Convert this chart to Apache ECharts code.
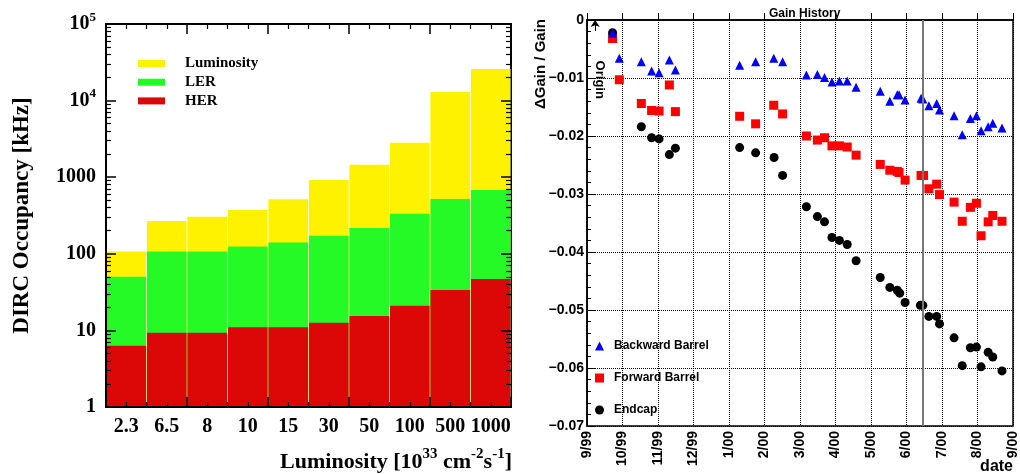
<!DOCTYPE html>
<html><head><meta charset="utf-8">
<script src="https://cdn.jsdelivr.net/npm/echarts@6/dist/echarts.min.js"></script>
<style>html,body{margin:0;padding:0;background:#fff}#c{width:1020px;height:474px}</style>
</head><body><div id="c"></div>
<script>
// ---------- left panel data ----------
const lumCategories = ['2.3','6.5','8','10','15','30','50','100','500','1000'];
const luminosityRate = [107, 268, 305, 373, 515, 920, 1455, 2820, 12950, 25900];
const lerRate = [50, 107, 107, 125, 140, 172, 217, 334, 520, 681];
const herRate = [6.3, 9.3, 9.3, 11, 11, 12.6, 15.4, 21, 33.7, 46.9];
const logMinorTicks = [2,3,4,5,6,7,8,9,20,30,40,50,60,70,80,90,200,300,400,500,600,700,800,900,
  2000,3000,4000,5000,6000,7000,8000,9000,20000,30000,40000,50000,60000,70000,80000,90000];

// ---------- right panel data (x = months since 1 Sep 1999) ----------
const dateTickLabels = ['9/99','10/99','11/99','12/99','1/00','2/00','3/00','4/00','5/00','6/00','7/00','8/00','9/00'];
const backwardBarrel = [[0.72,-0.0023],[0.91,-0.0066],[1.53,-0.0072],[1.82,-0.0088],[2.03,-0.0091],[2.32,-0.0069],[2.49,-0.0086],
  [4.30,-0.0078],[4.75,-0.0072],[5.26,-0.0066],[5.51,-0.0072],[6.18,-0.0095],[6.49,-0.0094],[6.69,-0.0099],[6.90,-0.0107],
  [7.11,-0.0105],[7.33,-0.0105],[7.58,-0.0116],[8.26,-0.0123],[8.53,-0.0140],[8.74,-0.0129],[8.79,-0.0129],[8.96,-0.0138],
  [9.41,-0.0135],[9.46,-0.0136],[9.63,-0.0148],[9.85,-0.0144],[9.93,-0.0155],[10.34,-0.0165],[10.57,-0.0198],[10.80,-0.0170],
  [10.97,-0.0165],[11.10,-0.0191],[11.30,-0.0184],[11.43,-0.0178],[11.69,-0.0186]];
const forwardBarrel = [[0.72,-0.0032],[0.91,-0.0103],[1.53,-0.0144],[1.82,-0.0156],[2.03,-0.0157],[2.32,-0.0112],[2.49,-0.0158],
  [4.30,-0.0166],[4.75,-0.0179],[5.26,-0.0147],[5.51,-0.0162],[6.18,-0.0200],[6.49,-0.0207],[6.69,-0.0203],[6.90,-0.0217],
  [7.11,-0.0217],[7.33,-0.0219],[7.58,-0.0233],[8.26,-0.0249],[8.53,-0.0259],[8.74,-0.0261],[8.79,-0.0263],[8.96,-0.0276],
  [9.41,-0.0268],[9.48,-0.0268],[9.63,-0.0291],[9.85,-0.0283],[9.93,-0.0301],[10.34,-0.0314],[10.57,-0.0347],[10.80,-0.0323],
  [10.97,-0.0316],[11.10,-0.0372],[11.30,-0.0348],[11.43,-0.0337],[11.69,-0.0347]];
const endcap = [[0.72,-0.0022],[1.53,-0.0184],[1.82,-0.0203],[2.03,-0.0205],[2.32,-0.0232],[2.49,-0.0221],
  [4.30,-0.0220],[4.75,-0.0229],[5.27,-0.0237],[5.51,-0.0268],[6.18,-0.0322],[6.49,-0.0339],[6.69,-0.0348],[6.90,-0.0375],
  [7.11,-0.0380],[7.33,-0.0387],[7.58,-0.0415],[8.26,-0.0444],[8.53,-0.0461],[8.74,-0.0466],[8.81,-0.0471],[8.96,-0.0487],
  [9.39,-0.0492],[9.46,-0.0492],[9.63,-0.0511],[9.85,-0.0511],[9.93,-0.0524],[10.34,-0.0548],[10.57,-0.0596],[10.80,-0.0565],
  [10.97,-0.0564],[11.10,-0.0598],[11.30,-0.0573],[11.43,-0.0581],[11.69,-0.0605]];
const markerDate = 9.455;
const originDate = 0.23;

const SERIF = '"Liberation Serif", "DejaVu Serif", serif';
const SANS = '"Liberation Sans", Arial, sans-serif';

const chart = echarts.init(document.getElementById('c'), null, {renderer: 'canvas'});

const supRich = {
  b: {fontFamily: SERIF, fontWeight: 'bold', fontSize: 20, lineHeight: 26, color: '#000'},
  s: {fontFamily: SERIF, fontWeight: 'bold', fontSize: 13, lineHeight: 13, verticalAlign: 'top', color: '#000'}
};
const titleRich = {
  b: {fontFamily: SERIF, fontWeight: 'bold', fontSize: 22, lineHeight: 30, color: '#000'},
  s: {fontFamily: SERIF, fontWeight: 'bold', fontSize: 15, lineHeight: 15, verticalAlign: 'top', color: '#000'}
};

const hidden = {axisLabel: {show: false}, axisLine: {show: false}, splitLine: {show: false}, z: 10};
const majorTick = {show: true, inside: true, length: 10, lineStyle: {color: '#000', width: 1.5}};
const minorTickStyle = {show: true, inside: true, length: 5, lineStyle: {color: '#000', width: 1.2}};

const option = {
  animation: false,
  backgroundColor: '#fff',
  title: [
    {text: '{b|Luminosity [10}{s|33}{b| cm}{s|-2}{b|s}{s|-1}{b|]}', right: 503, top: 442,
     textStyle: {rich: titleRich}},
    {text: 'Gain History', left: 764, top: 3,
     textStyle: {fontFamily: SANS, fontWeight: 'bold', fontSize: 12, color: '#000'}},
    {text: 'date', right: 2, top: 454,
     textStyle: {fontFamily: SANS, fontWeight: 'bold', fontSize: 16, color: '#000'}}
  ],
  legend: [
    {data: ['Luminosity', 'LER', 'HER'], orient: 'vertical', left: 133, top: 51,
     itemWidth: 27, itemHeight: 7, itemGap: 3.7, icon: 'rect', selectedMode: false,
     textStyle: {fontFamily: SERIF, fontWeight: 'bold', fontSize: 15, color: '#000', padding: [0, 0, 0, 15]}},
    {data: ['Backward Barrel', 'Forward Barrel', 'Endcap'], orient: 'vertical', left: 590, top: 335,
     itemWidth: 9, itemHeight: 9, itemGap: 20, selectedMode: false,
     textStyle: {fontFamily: SANS, fontWeight: 'bold', fontSize: 12, color: '#000', padding: [0, 0, 0, 5]}}
  ],
  grid: [
    {left: 106, top: 24, width: 405, height: 383, show: true, borderColor: '#000', borderWidth: 2, backgroundColor: 'transparent'},
    {left: 587, top: 20, width: 432, height: 406, show: true, borderColor: '#000', borderWidth: 1.5, backgroundColor: 'transparent'}
  ],
  xAxis: [
    {type: 'category', gridIndex: 0, data: lumCategories, position: 'bottom', z: 10,
     axisLine: {lineStyle: {color: '#000', width: 2}}, axisTick: {show: false},
     axisLabel: {interval: 0, margin: 10, fontFamily: SERIF, fontWeight: 'bold', fontSize: 20, color: '#000'}},
    Object.assign({type: 'value', gridIndex: 0, min: 0, max: 10, interval: 2, position: 'bottom',
     axisTick: majorTick, minorTick: {show: true, splitNumber: 4, length: 5, lineStyle: {color: '#000', width: 1.2}}}, hidden),
    Object.assign({type: 'value', gridIndex: 0, min: 0, max: 10, interval: 2, position: 'top',
     axisTick: majorTick, minorTick: {show: true, splitNumber: 4, length: 5, lineStyle: {color: '#000', width: 1.2}}}, hidden),
    {type: 'value', gridIndex: 1, min: 0, max: 12, interval: 1, position: 'bottom',
     axisLine: {lineStyle: {color: '#000', width: 1.5}},
     axisTick: {inside: true, length: 7, lineStyle: {color: '#000'}},
     splitLine: {show: true, lineStyle: {color: '#000', type: 'dotted', width: 1}},
     axisLabel: {rotate: 90, margin: 5, fontFamily: SANS, fontWeight: 'bold', fontSize: 14, color: '#000',
       formatter: v => dateTickLabels[Math.round(v)] || ''}}
  ],
  yAxis: [
    {type: 'log', gridIndex: 0, min: 1, max: 100000, logBase: 10, position: 'left', z: 10,
     name: 'DIRC Occupancy [kHz]', nameLocation: 'middle', nameGap: 72,
     nameTextStyle: {fontFamily: SERIF, fontWeight: 'bold', fontSize: 23, color: '#000'},
     axisLine: {show: true, lineStyle: {color: '#000', width: 2}},
     axisTick: majorTick,
     splitLine: {show: false},
     axisLabel: {margin: 10, formatter: v => v >= 10000 ? '{b|10}{s|' + Math.round(Math.log10(v)) + '}' : '{b|' + v + '}',
       rich: supRich}},
    Object.assign({type: 'log', gridIndex: 0, min: 1, max: 100000, logBase: 10, position: 'left',
     axisTick: Object.assign({customValues: logMinorTicks}, minorTickStyle)}, hidden),
    Object.assign({type: 'log', gridIndex: 0, min: 1, max: 100000, logBase: 10, position: 'right',
     axisTick: majorTick}, hidden),
    Object.assign({type: 'log', gridIndex: 0, min: 1, max: 100000, logBase: 10, position: 'right',
     axisTick: Object.assign({customValues: logMinorTicks}, minorTickStyle)}, hidden),
    {type: 'value', gridIndex: 1, min: -0.07, max: 0, interval: 0.01, position: 'left',
     axisLine: {show: true, lineStyle: {color: '#000', width: 1.5}},
     axisTick: {show: true, inside: true, length: 8, lineStyle: {color: '#000'}},
     minorTick: {show: true, splitNumber: 5, length: 4, lineStyle: {color: '#000'}},
     splitLine: {show: true, lineStyle: {color: '#000', type: 'dotted', width: 1}},
     axisLabel: {margin: 3, fontFamily: SANS, fontWeight: 'bold', fontSize: 14, color: '#000',
       formatter: v => Math.abs(v) < 1e-9 ? '0' : '\u2212' + Math.abs(v).toFixed(2)}}
  ],
  series: [
    {name: 'Luminosity', type: 'bar', xAxisIndex: 0, yAxisIndex: 0, data: luminosityRate,
     barWidth: '98%', barGap: '-100%', itemStyle: {color: '#fff200'}},
    {name: 'LER', type: 'bar', xAxisIndex: 0, yAxisIndex: 0, data: lerRate,
     barWidth: '98%', barGap: '-100%', itemStyle: {color: '#26fa26'}},
    {name: 'HER', type: 'bar', xAxisIndex: 0, yAxisIndex: 0, data: herRate,
     barWidth: '98%', barGap: '-100%', itemStyle: {color: '#dc0808'}},
    {name: 'Forward Barrel', type: 'scatter', xAxisIndex: 3, yAxisIndex: 4, data: forwardBarrel,
     symbol: 'rect', symbolSize: 9, itemStyle: {color: '#ff0000', opacity: 1}},
    {name: 'Endcap', type: 'scatter', xAxisIndex: 3, yAxisIndex: 4, data: endcap,
     symbol: 'circle', symbolSize: 9, itemStyle: {color: '#000', opacity: 1}},
    {name: 'Backward Barrel', type: 'scatter', xAxisIndex: 3, yAxisIndex: 4, data: backwardBarrel,
     symbol: 'triangle', symbolSize: 9, itemStyle: {color: '#0000ff', opacity: 1},
     markLine: {silent: true, animation: false, label: {show: false},
       data: [
         [{coord: [markerDate, -0.07], symbol: 'none', lineStyle: {color: '#777', width: 2, type: 'solid'}},
          {coord: [markerDate, 0], symbol: 'none'}],
         [{coord: [originDate, -0.0019], symbol: 'none', lineStyle: {color: '#000', width: 1, type: 'solid'}},
          {coord: [originDate, 0], symbol: 'arrow', symbolSize: [7, 7]}]
       ]}}
  ]
};
chart.setOption(option);

const originPt = chart.convertToPixel({xAxisIndex: 3, yAxisIndex: 4}, [originDate, -0.0103]);
chart.setOption({
  graphic: [
    {type: 'text', x: originPt[0] + 4, y: originPt[1], rotation: -Math.PI / 2,
     style: {text: 'Origin', fontFamily: SANS, fontWeight: 'bold', fontSize: 13, fill: '#000',
       textAlign: 'center', textVerticalAlign: 'middle'}},
    {type: 'text', x: 541, y: 64, rotation: Math.PI / 2,
     style: {text: '\u0394Gain / Gain', fontFamily: SANS, fontWeight: 'bold', fontSize: 15, fill: '#000',
       textAlign: 'center', textVerticalAlign: 'middle'}}
  ]
});
</script></body></html>
